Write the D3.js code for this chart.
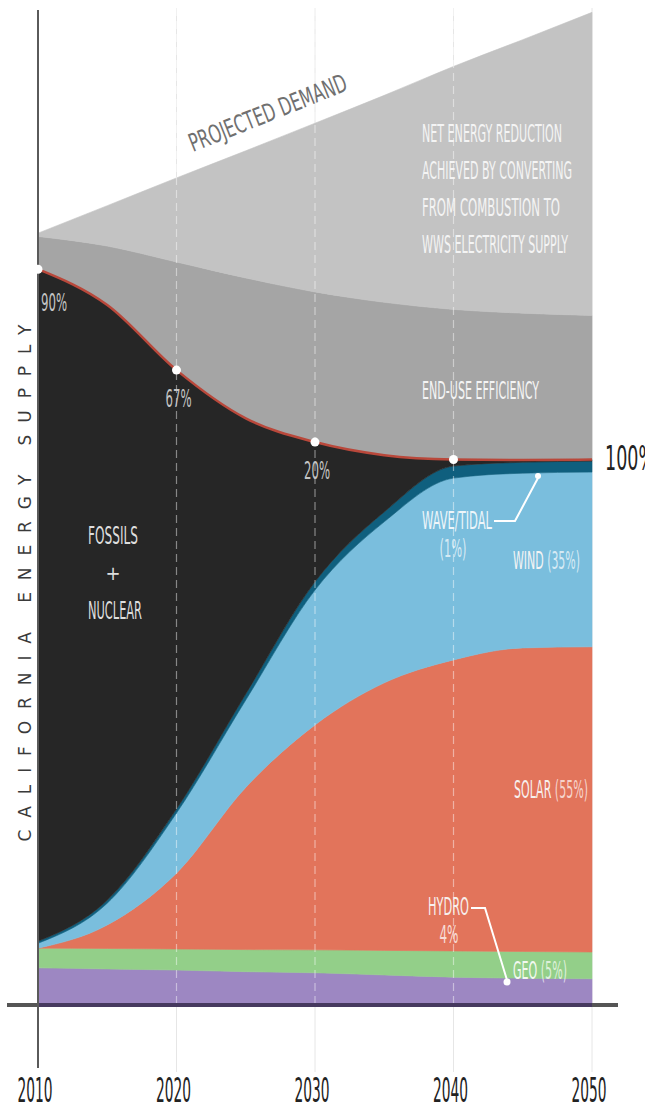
<!DOCTYPE html>
<html>
<head>
<meta charset="utf-8">
<script src="https://cdn.jsdelivr.net/npm/d3@7"></script>
<style>
  html, body { margin: 0; padding: 0; background: #fff; }
  svg { display: block; }
  .cond { font-family: "Liberation Sans Narrow", "DejaVu Sans Condensed", sans-serif; }
</style>
</head>
<body>
<div class="chart"></div>
<script>
/*** DATA (share of 2050 supply) ***/
const years = [2010, 2015, 2020, 2025, 2030, 2035, 2040, 2045, 2050];
const hydro         = [6.8, 6.6, 6.4, 6.1, 5.9, 5.5, 5.1, 4.9, 4.8];
const geo           = [3.6, 3.75, 3.85, 4.05, 4.2, 4.5, 4.8, 4.9, 4.9];
const solar         = [0, 4.3, 13.9, 29.7, 41.2, 49.0, 53.3, 55.6, 55.9];
const wind          = [0.9, 4.0, 11.0, 16.0, 24.7, 29.5, 33.3, 32.0, 32.0];
const waveTidal     = [0.36, 0.55, 0.73, 1.1, 1.5, 1.8, 2.2, 2.0, 2.0];
const fossilNuclear = [123.1, 109.0, 80.4, 50.5, 25.6, 10.4, 1.2, 0.4, 0.3];
const efficiency    = [6.0, 10.8, 19.8, 25.7, 27.5, 28.0, 27.5, 26.9, 26.4];
const netReduction  = [0.6, 7.4, 15.4, 23.3, 30.9, 37.9, 44.5, 50.1, 55.5];

const tickYears = [2010, 2020, 2030, 2040, 2050];
const markerYears = [2010, 2020, 2030, 2040];
const markerLabels = ['90%', '67%', '20%'];

const keys = ['hydro', 'geo', 'solar', 'wind', 'waveTidal', 'fossil', 'efficiency', 'reduction'];
const colors = ['#9d87c2', '#93cf89', '#e2745b', '#7abedd', '#0f5f7e', '#262626', '#a5a5a5', '#c3c3c3'];

const rows = years.map((yr, i) => ({
  year: yr, hydro: hydro[i], geo: geo[i], solar: solar[i], wind: wind[i],
  waveTidal: waveTidal[i], fossil: fossilNuclear[i], efficiency: efficiency[i], reduction: netReduction[i]
}));

/*** LAYOUT ***/
const width = 645, height = 1111;
const svg = d3.select('.chart').append('svg')
  .attr('width', width)
  .attr('height', height);

const x = d3.scaleLinear().domain([2010, 2050]).range([38, 592]);
const y = d3.scaleLinear().domain([0, 100]).range([1005, 459]);

const series = d3.stack().keys(keys)(rows);

// faint gridlines behind
svg.append('g').selectAll('line')
  .data(tickYears.slice(1))
  .join('line')
  .attr('x1', d => x(d)).attr('x2', d => x(d))
  .attr('y1', 8).attr('y2', 1072)
  .style('stroke', '#e6e6e6')
  .style('stroke-width', 1);

const area = d3.area()
  .x(d => x(d.data.year))
  .y0(d => y(d[0]))
  .y1(d => y(d[1]))
  .curve(d3.curveMonotoneX);

svg.append('g').selectAll('path')
  .data(series)
  .join('path')
  .attr('d', area)
  .style('fill', (d, i) => colors[i])
  .style('stroke', (d, i) => colors[i])
  .style('stroke-width', 0.6);

// red edge on top of fossils
const fossilTop = series[5];
svg.append('path')
  .datum(fossilTop)
  .attr('d', d3.line().x(d => x(d.data.year)).y(d => y(d[1])).curve(d3.curveMonotoneX))
  .style('fill', 'none')
  .style('stroke', '#b9483b')
  .style('stroke-width', 2.5);

// dashed gridlines over the areas
svg.append('g').selectAll('line')
  .data(tickYears.slice(1, 4))
  .join('line')
  .attr('x1', d => x(d)).attr('x2', d => x(d))
  .attr('y1', 8).attr('y2', y(0))
  .style('stroke', '#fff')
  .style('stroke-opacity', 0.45)
  .style('stroke-width', 1.2)
  .style('stroke-dasharray', '8,5');

// axes
svg.append('line')
  .attr('x1', 7).attr('x2', 618).attr('y1', y(0)).attr('y2', y(0))
  .style('stroke', '#555').style('stroke-width', 4);
svg.append('line')
  .attr('x1', x(2010)).attr('x2', x(2050)).attr('y1', y(0)).attr('y2', y(0))
  .style('stroke', '#46395f').style('stroke-width', 4);
svg.append('line')
  .attr('x1', x(2010)).attr('x2', x(2010)).attr('y1', 10).attr('y2', 1068)
  .style('stroke', '#5a5a5a').style('stroke-width', 2);

// markers on the fossil edge
const markerPts = markerYears.map(yr => fossilTop.find(d => d.data.year === yr));
svg.append('g').selectAll('circle')
  .data(markerPts)
  .join('circle')
  .attr('cx', d => x(d.data.year))
  .attr('cy', d => y(d[1]))
  .attr('r', 4.5)
  .style('fill', '#fff');

/*** TEXT ***/
function addText(str, px, py, size, len, fill, anchor) {
  const t = svg.append('text')
    .attr('class', 'cond')
    .attr('x', px).attr('y', py)
    .attr('font-size', size)
    .attr('text-anchor', anchor || 'start')
    .style('fill', fill)
    .text(str);
  if (len) t.attr('textLength', len).attr('lengthAdjust', 'spacingAndGlyphs');
  return t;
}

// label with a dimmer "(xx%)" part, kept in one text element
function addPair(main, extra, px, py, len, fill) {
  const t = svg.append('text')
    .attr('class', 'cond')
    .attr('x', px).attr('y', py)
    .attr('font-size', 24)
    .attr('textLength', len)
    .attr('lengthAdjust', 'spacingAndGlyphs')
    .style('fill', fill);
  t.append('tspan').text(main + ' ');
  t.append('tspan').style('fill-opacity', 0.7).style('fill', '#fff').text(extra);
  return t;
}

// year ticks
tickYears.forEach(yr => addText(String(yr), x(yr) - 3, 1102, 34, 35, '#222', 'middle'));

// marker percentages
markerLabels.forEach((lab, i) => {
  const d = markerPts[i];
  addText(lab, x(d.data.year) + (i === 0 ? 3 : -11), y(d[1]) + (i === 0 ? 42 : 37), 24, 26, '#c4c4c4', 'start');
});

addText('100%', 605, 470, 33, 50, '#222');

// projected demand, along the slope
const slope = Math.atan2(y(series[7][0][1]) - y(series[7][8][1]), x(2050) - x(2010)) * 180 / Math.PI;
svg.append('text')
  .attr('class', 'cond')
  .attr('transform', `translate(193,152) rotate(${-slope})`)
  .attr('font-size', 25)
  .attr('textLength', 168)
  .attr('lengthAdjust', 'spacingAndGlyphs')
  .style('fill', '#707070')
  .text('PROJECTED DEMAND');

const netLines = ['NET ENERGY REDUCTION', 'ACHIEVED BY CONVERTING', 'FROM  COMBUSTION  TO', 'WWS ELECTRICITY SUPPLY'];
const netLens = [140, 150, 138, 146];
netLines.forEach((l, i) => addText(l, 422, 142 + i * 37, 24, netLens[i], '#f4f4f4'));

addText('END-USE EFFICIENCY', 422, 399, 24, 117, '#f4f4f4');

addText('FOSSILS', 113, 544, 24, 50, '#dedede', 'middle');
addText('+', 113, 580, 20, null, '#dedede', 'middle');
addText('NUCLEAR', 115, 619, 24, 54, '#dedede', 'middle');

addText('WAVE/TIDAL', 422, 529, 24, 70, '#eef6fa');
addText('(1%)', 453, 557, 24, 27, 'rgba(255,255,255,0.7)', 'middle');
addPair('WIND', '(35%)', 513, 569, 67, '#f4f4f4');
addPair('SOLAR', '(55%)', 514, 798, 74, '#f7f0ee');
addText('HYDRO', 428, 915, 24, 41, '#f7f0ee');
addText('4%', 449, 943, 24, 19, 'rgba(255,255,255,0.75)', 'middle');
addPair('GEO', '(5%)', 513, 979, 54, '#f2f8f0');

// leader lines
const leader = d3.line();
svg.append('path')
  .attr('d', leader([[494, 521], [515, 521], [538, 478]]))
  .style('fill', 'none').style('stroke', '#fff').style('stroke-width', 2);
svg.append('circle').attr('cx', 538).attr('cy', 476).attr('r', 3).style('fill', '#fff');
svg.append('path')
  .attr('d', leader([[471, 908], [485, 908], [507, 980]]))
  .style('fill', 'none').style('stroke', '#fff').style('stroke-width', 2);
svg.append('circle').attr('cx', 507).attr('cy', 982).attr('r', 3.5).style('fill', '#fff');

// y axis title
svg.append('text')
  .attr('transform', 'translate(31,583) rotate(-90)')
  .attr('text-anchor', 'middle')
  .attr('font-size', 17)
  .attr('textLength', 517)
  .attr('lengthAdjust', 'spacing')
  .style('font-family', '"DejaVu Sans", sans-serif')
  .style('fill', '#3a3a3a')
  .text('CALIFORNIA ENERGY SUPPLY');
</script>
</body>
</html>
